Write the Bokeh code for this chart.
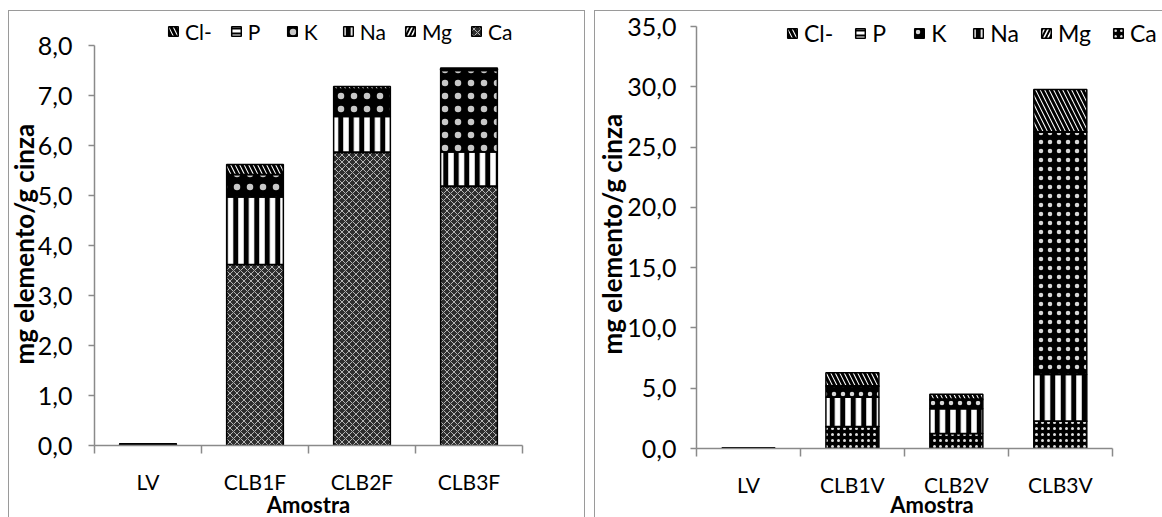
from bokeh.plotting import figure
from bokeh.models import (Range1d, FixedTicker, Legend, LegendItem, Spacer,
                          ColumnDataSource, Title)
from bokeh.layouts import row, column
from bokeh.transform import stack
from bokeh.embed import file_html
from bokeh.resources import INLINE

# Element content (mg element / g ash), stacked bottom to top: Ca, Mg, Na, K, P, Cl-
elements = ["Ca", "Mg", "Na", "K", "P", "Cl-"]

samples_f = ["LV", "CLB1F", "CLB2F", "CLB3F"]
ca_f = [0.03, 3.62, 5.86, 5.18]
mg_f = [0.00, 0.00, 0.01, 0.01]
na_f = [0.00, 1.35, 0.71, 0.68]
k_f = [0.00, 0.45, 0.52, 1.63]
p_f = [0.00, 0.00, 0.03, 0.02]
cl_f = [0.00, 0.20, 0.05, 0.03]

samples_v = ["LV", "CLB1V", "CLB2V", "CLB3V"]
ca_v = [0.05, 1.80, 1.25, 2.26]
mg_v = [0.00, 0.02, 0.00, 0.02]
na_v = [0.00, 2.43, 2.05, 3.85]
k_v = [0.00, 0.90, 0.75, 20.10]
p_v = [0.00, 0.05, 0.05, 0.05]
cl_v = [0.00, 1.08, 0.40, 3.50]

ticks_f = [0, 1, 2, 3, 4, 5, 6, 7, 8]
ticks_v = [0, 5, 10, 15, 20, 25, 30, 35]

FONT = "Lato"
AXIS_GRAY = "#8a8a8a"


def tick_text(v):
    return f"{v:.1f}".replace(".", ",")


def styles(ca_style, k_style):
    base = dict(line_color="black", line_width=1.5)
    return {
        "Ca": {**base, **ca_style},
        "Mg": {**base, "fill_color": "white", "hatch_pattern": "right_diagonal_line",
               "hatch_color": "black", "hatch_weight": 2, "hatch_scale": 8},
        "Na": {**base, "fill_color": "white", "hatch_pattern": "vertical_line",
               "hatch_color": "black", "hatch_weight": 5, "hatch_scale": 10.5},
        "K": {**base, "fill_color": "black", "hatch_pattern": "dot", **k_style},
        "P": {**base, "fill_color": "white", "hatch_pattern": "horizontal_line",
              "hatch_color": "black", "hatch_weight": 2, "hatch_scale": 5},
        "Cl-": {**base, "fill_color": "white", "hatch_pattern": "left_diagonal_line",
                "hatch_color": "black", "hatch_weight": 3, "hatch_scale": 9},
    }


def make_panel(samples, series, ticks, frame_w, frame_h, left, right, top_px, cat_px,
               bar_width, style_map, legend_xy, legend_font, legend_spacing,
               ytick_standoff, ylabel_standoff, ylabel_offset, xlabel_standoff):
    # the last tick sits top_px below the frame top; ranges run past the last
    # category / tick so the legend fits inside, the axis lines stop via bounds
    x_end = 0.5 + frame_w / cat_px
    y_end = ticks[-1] * frame_h / (frame_h - top_px)
    p = figure(frame_width=frame_w, frame_height=frame_h,
               output_backend="svg", toolbar_location=None,
               x_range=Range1d(0.5, x_end), y_range=Range1d(0, y_end),
               min_border_left=left, min_border_right=right,
               min_border_top=8, min_border_bottom=10,
               outline_line_color=None, background_fill_color="white",
               border_fill_color="white")
    p.styles = {"border": "1px solid #9a9a9a"}
    p.xgrid.visible = False
    p.ygrid.visible = False

    src = ColumnDataSource(dict(x=[1, 2, 3, 4], **dict(zip(elements, series))))
    renderers = {}
    for i, el in enumerate(elements):
        renderers[el] = p.vbar(x="x", width=bar_width, source=src,
                               bottom=stack(*elements[:i]), top=stack(*elements[:i + 1]),
                               **style_map[el])

    items = [LegendItem(label=el, renderers=[renderers[el]]) for el in reversed(elements)]
    legend = Legend(items=items, orientation="horizontal", location=legend_xy,
                    padding=0, margin=0, spacing=legend_spacing,
                    glyph_width=12, glyph_height=12, label_standoff=6,
                    border_line_color=None, background_fill_alpha=0,
                    label_text_font=FONT, label_text_font_size=legend_font,
                    label_text_color="black", label_height=26)
    p.add_layout(legend)

    xa = p.xaxis[0]
    xa.bounds = (0.5, 4.5)
    xa.ticker = FixedTicker(ticks=[1, 2, 3, 4], minor_ticks=[0.5, 1.5, 2.5, 3.5, 4.5])
    xa.major_label_overrides = {i + 1: s for i, s in enumerate(samples)}
    xa.major_tick_line_color = None
    xa.major_tick_out = 8
    xa.major_tick_in = 0
    xa.minor_tick_out = 8
    xa.minor_tick_in = 0
    xa.minor_tick_line_color = AXIS_GRAY
    xa.minor_tick_line_width = 1.5
    xa.axis_line_color = AXIS_GRAY
    xa.axis_line_width = 1.5
    xa.major_label_standoff = 15
    xa.major_label_text_font = FONT
    xa.major_label_text_font_size = "21px"
    xa.major_label_text_color = "black"
    xa.axis_label = "Amostra"
    xa.axis_label_text_font = FONT
    xa.axis_label_text_font_style = "bold"
    xa.axis_label_text_font_size = "22px"
    xa.axis_label_text_color = "black"
    xa.axis_label_standoff = xlabel_standoff

    ya = p.yaxis[0]
    ya.bounds = (ticks[0], ticks[-1])
    ya.ticker = FixedTicker(ticks=ticks)
    ya.major_label_overrides = {t: tick_text(t) for t in ticks}
    ya.major_tick_out = 6
    ya.major_tick_in = 0
    ya.major_tick_line_color = AXIS_GRAY
    ya.major_tick_line_width = 1.5
    ya.minor_tick_line_color = None
    ya.axis_line_color = AXIS_GRAY
    ya.axis_line_width = 1.5
    ya.major_label_standoff = ytick_standoff
    ya.major_label_text_font = FONT
    ya.major_label_text_font_size = "25px"
    ya.major_label_text_color = "black"

    # y title placed from the bottom of the frame so it sits along the axis line
    ytitle = Title(text="mg elemento/g cinza", align="left", offset=ylabel_offset,
                   standoff=ylabel_standoff, text_font=FONT, text_font_style="bold",
                   text_font_size="26px", text_color="black")
    p.add_layout(ytitle, "left")
    return p


ca_left = dict(fill_color="#2e2e2e", hatch_pattern="diagonal_cross",
               hatch_color="#b5b5b5", hatch_weight=1, hatch_scale=7)
ca_right = dict(fill_color="black", hatch_pattern="dot",
                hatch_color="#e0e0e0", hatch_weight=3, hatch_scale=6)
k_left = dict(hatch_color="#c8c8c8", hatch_weight=1, hatch_scale=13)
k_right = dict(hatch_color="#d8d8d8", hatch_weight=1, hatch_scale=9)

p1 = make_panel(samples_f, [ca_f, mg_f, na_f, k_f, p_f, cl_f], ticks_f,
                frame_w=426, frame_h=424, left=85, right=64, top_px=26, cat_px=106.5,
                bar_width=0.53, style_map=styles(ca_left, k_left), legend_xy=(73, 401),
                legend_font="21px", legend_spacing=18,
                ytick_standoff=16, ylabel_standoff=-10, ylabel_offset=81,
                xlabel_standoff=-6)
p2 = make_panel(samples_v, [ca_v, mg_v, na_v, k_v, p_v, cl_v], ticks_v,
                frame_w=469, frame_h=427, left=101, right=0, top_px=7, cat_px=103.5,
                bar_width=0.51, style_map=styles(ca_right, k_right), legend_xy=(90, 401),
                legend_font="23px", legend_spacing=21,
                ytick_standoff=14, ylabel_standoff=-6, ylabel_offset=94,
                xlabel_standoff=-9)

layout = column(Spacer(height=10),
                row(Spacer(width=8), p1, Spacer(width=9), p2))

open("out.html", "w").write(file_html(layout, INLINE))
